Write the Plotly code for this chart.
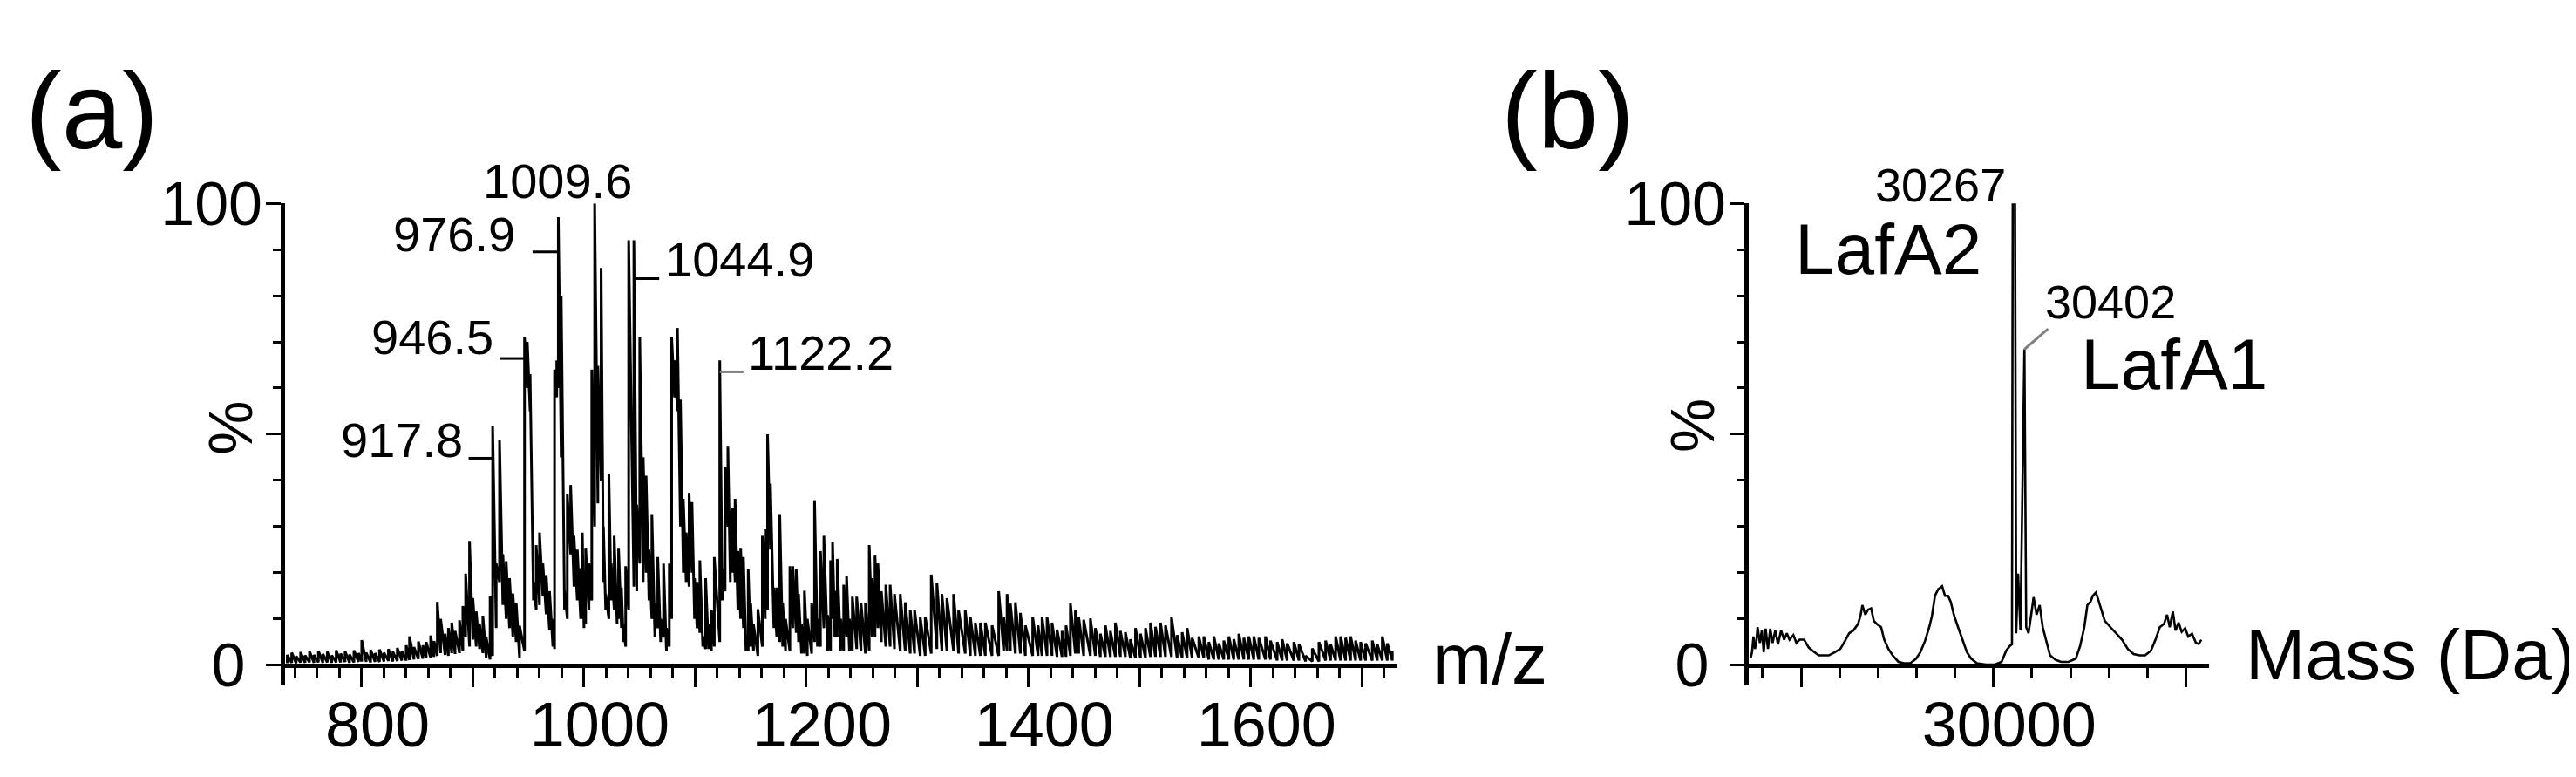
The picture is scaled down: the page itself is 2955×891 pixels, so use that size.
import plotly.graph_objects as go

# ---- panel (a): ESI m/z spectrum, one entry per profile peak ----
# peak position (m/z), peak top (%) and the trough just before it (%)
mz_a = [
    733, 737, 741, 745, 749, 753, 757, 761, 765, 769, 773, 777, 781, 785, 789, 793, 797,
    800, 804, 808, 812, 816, 820, 824, 828, 832, 836, 840, 843, 847, 851, 855, 858, 862, 865,
    868, 871, 875, 878, 881, 884, 888, 891, 893.5, 897, 900, 903, 906, 909, 912, 915.5,
    917.8, 921, 924, 927, 930, 933, 936, 939, 942,
    946.5, 949, 951.5, 954.5, 957, 960, 963, 966, 969, 972,
    973.5, 975.5, 976.9, 979.5, 982.5, 985, 988, 991, 994, 997, 998.5, 1000, 1001.5, 1004.5, 1007,
    1009.6, 1012.5, 1015.4, 1017.5, 1019.5, 1022.4, 1024.5, 1027.2, 1029.8, 1031.1, 1033.7, 1035.5, 1037.5,
    1040.2, 1044.9, 1047.5, 1050.2, 1053.3, 1055.9, 1058.5, 1061.1, 1063.8, 1066.4, 1069, 1071.6, 1074.2, 1076.8,
    1078.9, 1081.5, 1084.1, 1086.8, 1089.4, 1092, 1094.6, 1097.2, 1099.5, 1101.8, 1104.3, 1106.9, 1109.5,
    1112.1, 1114.7, 1117.3,
    1122.2, 1124.5, 1127, 1129.5, 1131.7, 1133.7, 1136, 1138.5, 1141, 1143.5, 1145.8, 1147.8, 1150, 1152.6,
    1156.5, 1160.5, 1163.1, 1165.2, 1167.8, 1170.9, 1173.5, 1176.2, 1178.8, 1181.4, 1185.3, 1187.9, 1191,
    1193.1, 1195.8, 1198.4, 1201, 1204.9, 1207.5, 1210.1, 1212.8, 1215.9, 1219.3, 1221.9, 1223.7, 1225.8,
    1227.9, 1231, 1233.7, 1236.3, 1238.9, 1241.5, 1245.4, 1249.3, 1253.3, 1256.7, 1259.3, 1261.9, 1264.5,
    1267.6, 1271.6, 1275.5, 1279.4,
    1284.6, 1289.1, 1293.6, 1297.5, 1302.6, 1307.1, 1312.5, 1317.6, 1322.1, 1326.6, 1332.6, 1337.1, 1343.1,
    1347.7, 1352.2, 1356.7, 1361.2, 1367.2, 1373.2, 1377.7, 1380.7, 1383.7, 1388.2, 1392.7, 1397.2,
    1403.8, 1408.6, 1412.2, 1416.7, 1421.2, 1425.7, 1430.2, 1433.8, 1437.7, 1442.2, 1445.2, 1449.7, 1455.7,
    1460.2, 1464.7, 1469.2, 1473.7, 1478.2, 1482.7, 1487.2, 1491.7, 1496.3, 1500.8, 1505.3, 1509.8, 1514.3,
    1518.8, 1523.3, 1528.7, 1533.8, 1538.3, 1542.8, 1547.3, 1553.3, 1557.8, 1562.3, 1566.8, 1571.3, 1575.8,
    1580.3, 1584.8, 1589.3, 1593.8, 1598.3, 1602.8, 1607.3, 1613.3, 1617.8, 1623.8, 1628.3, 1632.8, 1638.8,
    1643.4, 1649.4, 1655.4, 1661.4, 1667.4, 1671.9, 1676.4, 1680.9, 1685.4, 1689.9, 1694.4, 1698.9, 1703.4,
    1709.4, 1713.9, 1718.4, 1722.9, 1727.4,
]
top_a = [
    2.2, 2.7, 1.9, 2.8, 2.1, 3.0, 2.2, 3.1, 2.4, 2.9, 2.1, 3.2, 2.5, 3.0, 2.3, 3.2, 2.6,
    5.4, 2.7, 3.3, 2.6, 3.4, 2.7, 3.5, 2.9, 3.7, 3.1, 4.3, 6.2, 3.9, 5.1, 4.3, 5.0, 6.4, 5.2,
    13.7, 10.0, 6.8, 8.0, 9.2, 7.4, 9.7, 12.8, 19.8, 26.9, 14.5, 11.6, 9.0, 10.7, 6.0, 15.0,
    51.7, 22.0, 48.8, 24.0, 22.5, 18.8, 15.5, 13.5, 8.5,
    71.0, 70.0, 63.0, 18.0, 26.0, 28.7, 22.0, 19.5, 16.0, 10.0,
    64.0, 66.0, 97.0, 80.0, 16.0, 37.0, 39.0, 28.0, 25.0, 21.0, 28.7, 13.5, 25.4, 22.0, 64.0,
    100.0, 64.8, 86.0, 30.0, 15.4, 41.3, 22.0, 28.0, 15.4, 25.4, 16.8, 8.8, 21.4,
    92.0, 92.0, 34.7, 71.0, 45.0, 41.0, 25.0, 32.7, 13.5, 23.4, 10.0, 22.0, 8.0, 22.0,
    71.0, 66.0, 73.0, 57.5, 36.0, 28.7, 37.3, 35.3, 18.8, 18.0, 22.7, 6.2, 18.8,
    8.8, 12.0, 23.4,
    66.0, 20.8, 43.0, 47.3, 33.4, 34.0, 36.0, 24.7, 25.4, 23.4, 6.2, 20.8, 13.5, 8.8,
    12.1, 28.0, 29.4, 50.0, 39.3, 16.8, 16.8, 32.7, 13.5, 10.0, 21.4, 21.4, 20.8,
    15.4, 8.8, 16.1, 10.0, 13.5, 35.7, 10.0, 24.7, 28.0, 10.8, 22.7, 26.7, 16.1,
    23.0, 10.0, 17.4, 19.4, 10.0, 14.8, 14.8, 13.5, 13.5, 26.0, 18.8, 23.7, 22.0,
    16.0, 17.4, 17.4, 15.4,
    15.4, 13.6, 11.9, 11.9, 10.4, 10.4, 19.6, 17.8, 15.4, 14.5, 15.4, 11.9, 11.9,
    10.4, 9.2, 9.2, 9.2, 8.6, 16.0, 10.4, 15.4, 13.3, 13.6, 11.3, 8.6,
    10.4, 8.6, 10.4, 10.4, 9.2, 7.7, 7.4, 8.6, 13.4, 11.9, 10.4, 9.8, 10.1,
    8.0, 6.8, 8.6, 7.4, 9.2, 7.4, 7.1, 5.6, 8.0, 6.8, 8.0, 9.2, 8.3,
    9.2, 8.6, 10.4, 6.5, 7.1, 8.0, 5.9, 6.2, 6.2, 5.0, 6.2, 4.7, 5.3,
    6.2, 5.6, 6.8, 5.9, 6.2, 6.2, 5.9, 6.2, 5.3, 5.0, 5.6, 4.7, 5.0,
    4.5, 2.0, 3.6, 5.0, 5.3, 4.5, 6.2, 6.2, 5.9, 6.2, 5.3, 5.0, 4.7,
    5.3, 4.5, 6.2, 4.7, 3.0,
]
low_a = [
    0.4, 0.5, 0.4, 0.6, 0.5, 0.6, 0.5, 0.6, 0.5, 0.6, 0.5, 0.6, 0.6, 0.7, 0.5, 0.6, 0.7,
    0.8, 0.7, 0.6, 0.7, 0.7, 0.8, 0.9, 0.8, 0.9, 1.0, 1.0, 1.1, 1.2, 1.3, 1.4, 1.5, 1.6, 1.8,
    2.0, 2.6, 2.2, 2.0, 2.6, 2.4, 2.6, 3.0, 6.0, 4.0, 5.5, 4.0, 3.5, 2.6, 1.5, 1.2,
    2.0, 8.0, 18.0, 13.0, 10.0, 8.0, 6.0, 5.0, 1.5,
    3.0, 60.0, 55.0, 14.0, 12.0, 13.0, 15.0, 11.0, 7.5, 4.0,
    3.5, 58.0, 60.0, 45.0, 12.0, 10.0, 24.0, 17.0, 14.0, 10.0, 10.0, 8.0, 9.0, 12.0, 14.0,
    30.0, 35.0, 40.0, 18.0, 12.0, 10.0, 14.0, 12.0, 9.0, 10.0, 8.0, 5.0, 4.0,
    12.0, 17.0, 16.0, 22.0, 18.0, 20.0, 14.0, 10.0, 6.0, 8.0, 5.0, 6.0, 3.0, 4.0,
    10.0, 58.0, 55.0, 30.0, 20.0, 18.0, 17.0, 20.0, 10.0, 8.0, 7.0, 4.0, 3.5,
    3.5, 3.0, 4.0,
    5.0, 14.0, 16.0, 30.0, 18.0, 20.0, 18.0, 12.0, 10.0, 8.0, 3.0, 3.0, 4.0, 3.0,
    2.0, 4.0, 10.0, 12.0, 25.0, 8.0, 6.0, 5.0, 4.0, 3.0, 3.0, 8.0, 7.0,
    5.0, 2.5, 2.5, 2.0, 2.5, 5.0, 4.0, 4.0, 8.0, 3.0, 3.0, 10.0, 6.0,
    6.0, 3.0, 3.0, 6.0, 3.0, 3.0, 3.5, 3.0, 2.5, 3.0, 6.0, 6.0, 8.0,
    5.0, 4.0, 4.0, 3.5,
    3.0, 3.0, 2.5, 2.5, 2.0, 2.0, 2.5, 3.5, 3.0, 3.0, 3.0, 2.5, 2.5,
    2.0, 2.0, 2.0, 2.0, 2.0, 2.0, 3.0, 3.0, 3.0, 2.5, 2.5, 2.0,
    2.0, 2.0, 2.0, 2.0, 2.0, 1.8, 1.8, 1.8, 2.0, 2.5, 2.5, 2.0, 2.0,
    2.0, 1.8, 1.8, 1.8, 1.8, 1.8, 1.8, 1.5, 1.5, 1.5, 1.5, 1.8, 1.8,
    1.8, 1.8, 1.8, 1.5, 1.5, 1.5, 1.5, 1.5, 1.5, 1.2, 1.2, 1.2, 1.2,
    1.2, 1.2, 1.2, 1.2, 1.2, 1.2, 1.2, 1.2, 1.2, 1.0, 1.0, 1.0, 1.0,
    1.0, 0.8, 0.8, 0.8, 1.0, 1.0, 1.0, 1.0, 1.0, 1.0, 1.0, 1.0, 1.0,
    1.0, 1.0, 1.0, 1.0, 1.0,
]

# ---- panel (b): deconvoluted mass spectrum ----
mass_b = [
    26845, 26863, 26882, 26901, 26920, 26935, 26965, 26990, 27015, 27040, 27070, 27100, 27130,
    27165, 27200, 27240, 27280, 27315, 27350, 27400, 27440, 27480, 27540, 27600, 27650, 27730,
    27800, 27860, 27940, 28010, 28070, 28125, 28180, 28240, 28275, 28296, 28335, 28370, 28410,
    28445, 28485, 28540, 28580, 28635, 28690, 28765, 28840, 28920, 28995, 29050, 29110, 29165,
    29200, 29240, 29280, 29333, 29370, 29410, 29445, 29485, 29540, 29600, 29655, 29710, 29785,
    29900, 30010, 30105, 30165, 30210, 30240, 30250, 30280, 30295, 30320, 30350, 30402, 30425,
    30455, 30490, 30521, 30560, 30600, 30640, 30680, 30735, 30810, 30880, 30975, 31070, 31125,
    31180, 31220, 31260, 31290, 31331, 31370, 31405, 31445, 31520, 31590, 31670, 31745, 31820,
    31895, 31970, 32045, 32105, 32160, 32215, 32255, 32290, 32330, 32365, 32405, 32445, 32490,
    32530, 32580, 32630, 32667, 32700,
]
int_b = [
    1.5, 2.8, 6.2, 3.5, 5.2, 8.2, 4.8, 7.5, 2.8, 7.9, 3.5, 7.9, 4.8,
    7.5, 4.5, 7.5, 5.5, 6.9, 5.5, 6.5, 4.8, 5.5, 5.5, 3.8, 3.1, 2.1,
    2.1, 2.1, 2.8, 3.5, 5.2, 6.9, 7.5, 8.9, 10.9, 13.0, 10.9, 12.0, 12.3,
    9.6, 8.9, 8.2, 5.5, 3.5, 2.1, 0.7, 0.4, 0.4, 1.4, 2.8, 5.2, 8.2,
    10.6, 15.0, 16.4, 17.1, 15.0, 15.0, 13.7, 10.9, 8.2, 5.5, 2.8, 1.4, 0.4,
    0.1, 0.1, 0.7, 3.1, 4.1, 4.5, 100.0, 100.0, 6.9, 19.8, 7.5, 68.4, 8.2,
    6.9, 10.9, 14.7, 10.9, 13.0, 8.2, 5.5, 2.1, 1.1, 0.7, 0.7, 1.4, 4.1,
    8.2, 13.0, 13.7, 15.0, 15.7, 13.7, 11.6, 9.6, 8.2, 6.9, 5.5, 3.5, 2.4,
    2.1, 2.1, 3.1, 5.5, 8.2, 8.9, 10.9, 8.2, 11.6, 7.5, 9.2, 7.2, 8.0,
    6.2, 6.8, 4.8, 4.6, 5.5,
]

ticks_a = [800, 900, 1000, 1100, 1200, 1300, 1400, 1500, 1600, 1700]
ticktext_a = ["800", "", "1000", "", "1200", "", "1400", "", "1600", ""]
ticks_b = [27500, 30000, 32500]
ticktext_b = ["", "30000", ""]

NARROW = "Liberation Sans Narrow, Arial Narrow, Liberation Sans, Arial, sans-serif"
REG = "Liberation Sans, Arial, Helvetica, sans-serif"
W, H = 2955, 891

# profile drawn as sticks: trough -> top at each peak
xs_a, ys_a = [], []
for m, hi, lo in zip(mz_a, top_a, low_a):
    xs_a += [m, m]
    ys_a += [lo, hi]

fig = go.Figure()
fig.add_trace(go.Scatter(x=xs_a, y=ys_a, mode="lines", line=dict(color="black", width=3),
                         xaxis="x", yaxis="y", cliponaxis=False, showlegend=False, hoverinfo="skip"))
fig.add_trace(go.Scatter(x=mass_b, y=int_b, mode="lines", line=dict(color="black", width=2.6),
                         xaxis="x2", yaxis="y2", cliponaxis=False, showlegend=False, hoverinfo="skip"))

ydom = [104 / H, 692 / H]
base_pos = 129 / H

yax = dict(range=[-4.44, 100], domain=ydom, showline=True, linecolor="black", linewidth=5,
           ticks="outside", ticklen=17, tickwidth=3, tickcolor="black",
           tickmode="array", tickvals=[0, 50, 100], ticktext=["0\u00a0", "", "100"],
           tickfont=dict(family=NARROW, size=70, color="black"), ticklabelstandoff=-10,
           showgrid=False, zeroline=False,
           minor=dict(tick0=0, dtick=10, ticks="outside", ticklen=9, tickwidth=3, tickcolor="black"))
xax = dict(anchor="free", position=base_pos, showline=True, linecolor="black", linewidth=5,
           ticks="outside", ticklen=22, tickwidth=3, tickcolor="black",
           tickfont=dict(family=NARROW, size=72, color="black"),
           ticklabelshift=18, ticklabelstandoff=-18,
           showgrid=False, zeroline=False, tickmode="array")

fig.update_layout(
    width=W, height=H, margin=dict(l=0, r=0, t=0, b=0),
    paper_bgcolor="white", plot_bgcolor="white", showlegend=False,
    xaxis=dict(xax, range=[731, 1732], domain=[319 / W, 1595 / W],
               tickvals=ticks_a, ticktext=ticktext_a,
               minor=dict(tick0=0, dtick=20, ticks="outside", ticklen=12, tickwidth=3, tickcolor="black")),
    yaxis=dict(yax, anchor="x"),
    xaxis2=dict(xax, range=[26820, 32800], domain=[1998 / W, 2526 / W],
                tickvals=ticks_b, ticktext=ticktext_b,
                minor=dict(tick0=0, dtick=500, ticks="outside", ticklen=12, tickwidth=3, tickcolor="black")),
    yaxis2=dict(yax, anchor="x2"),
)


def paper_text(text, px, py, size, family=REG, angle=0, xanchor="center"):
    # px, py: pixel position of the text centre, measured from the top-left corner
    return dict(text=text, x=px / W, y=(H - py) / H, xref="paper", yref="paper",
                xanchor=xanchor, yanchor="middle", showarrow=False, textangle=angle,
                font=dict(family=family, size=size, color="black"))


ann = [
    paper_text("(a)", 97, 86, 125),
    paper_text("(b)", 1790, 86, 125),
    paper_text("m/z", 1701, 754, 82),
    paper_text("Mass (Da)", 2757, 749, 82),
    paper_text("%", 257, 473, 70, family=NARROW, angle=-90),
    paper_text("%", 1934, 470, 70, family=NARROW, angle=-90),
    # labels sitting above the 100 % line
    paper_text("1009.6", 631, 172, 56),
    paper_text("30267", 2295, 177, 54, xanchor="right"),
]

# peak labels inside panel (a)
lab_a = [("917.8", 892.3, 48.8, "right"), ("946.5", 919.8, 71.0, "right"),
         ("976.9", 940.0, 93.3, "right"),
         ("1044.9", 1071.6, 87.9, "left"), ("1122.2", 1146.1, 67.7, "left")]
for t, x, y, anc in lab_a:
    ann.append(dict(text=t, x=x, y=y, xref="x", yref="y", xanchor=anc, yanchor="middle",
                    showarrow=False, font=dict(family=REG, size=56, color="black")))
# labels inside panel (b)
ann.append(dict(text="30402", x=30653, y=78.6, xref="x2", yref="y2", xanchor="left", yanchor="middle",
                showarrow=False, font=dict(family=REG, size=54, color="black")))
ann.append(dict(text="LafA2", x=28631, y=90.2, xref="x2", yref="y2", xanchor="center", yanchor="middle",
                showarrow=False, font=dict(family=REG, size=82, color="black")))
ann.append(dict(text="LafA1", x=32342, y=65.2, xref="x2", yref="y2", xanchor="center", yanchor="middle",
                showarrow=False, font=dict(family=REG, size=82, color="black")))

shapes = []
leaders = [("x", "y", 896.2, 44.8, 917.8, 44.8, "black"),
           ("x", "y", 924.2, 66.4, 946.5, 66.4, "black"),
           ("x", "y", 953.7, 89.5, 976.9, 89.5, "black"),
           ("x", "y", 1044.9, 83.7, 1067.7, 83.7, "black"),
           ("x", "y", 1122.2, 63.5, 1143.5, 63.5, "gray"),
           ("x2", "y2", 30181, 101.0, 30250, 101.0, "black"),
           ("x2", "y2", 30402, 68.4, 30709, 72.8, "gray")]
for xr, yr, x0, y0, x1, y1, c in leaders:
    shapes.append(dict(type="line", xref=xr, yref=yr, x0=x0, y0=y0, x1=x1, y1=y1,
                       line=dict(color=c, width=3)))

fig.update_layout(annotations=ann, shapes=shapes)
fig.write_html("out.html")
